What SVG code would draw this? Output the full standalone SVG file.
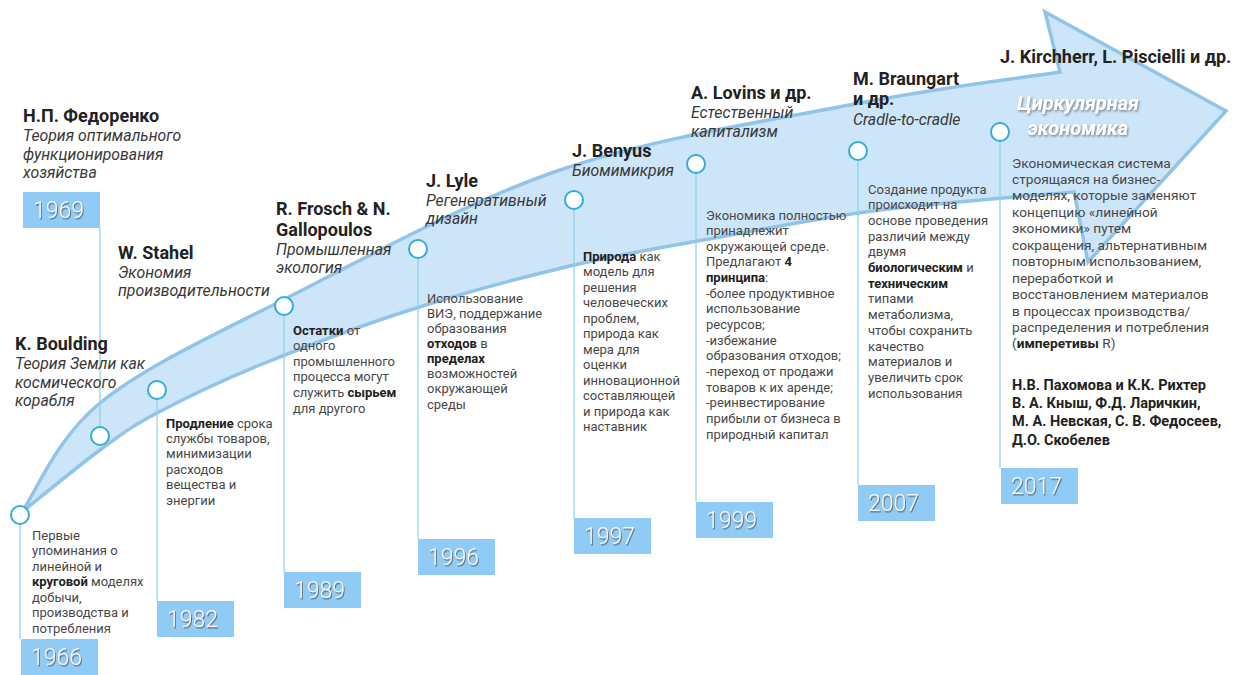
<svg xmlns="http://www.w3.org/2000/svg" width="1249" height="675" viewBox="0 0 1249 675">
<defs>
<style>
.t{font-family:Roboto,"Liberation Sans",sans-serif;font-weight:700;font-size:18px;fill:#222}
.i{font-family:Roboto,"Liberation Sans",sans-serif;font-style:italic;font-size:15.8px;fill:#383838}
.d{font-family:Roboto,"Liberation Sans",sans-serif;font-size:13px;fill:#484848}
.d2{font-family:Roboto,"Liberation Sans",sans-serif;font-size:13.7px;fill:#484848}
.b{font-weight:700;fill:#222}
.a2{font-family:Roboto,"Liberation Sans",sans-serif;font-weight:700;font-size:14.5px;fill:#222}
.yb{fill:#8fcbf4}
.yt{font-family:Roboto,"Liberation Sans",sans-serif;font-weight:300;font-size:23px;fill:#f6f6f6;filter:url(#sh)}
.c{fill:#fff;stroke:#33acd9;stroke-width:2}
.ln{stroke:#8ccfee;stroke-width:1.2;fill:none}
.ce{font-family:Roboto,"Liberation Sans",sans-serif;font-weight:700;font-style:italic;font-size:20px;fill:#fff;filter:url(#sh2)}
</style>
<filter id="sh" x="-20%" y="-20%" width="140%" height="150%">
<feDropShadow dx="1" dy="1.5" stdDeviation="0.7" flood-color="#555" flood-opacity="0.75"/>
</filter>
<filter id="sh2" x="-20%" y="-30%" width="140%" height="160%">
<feDropShadow dx="1" dy="1.5" stdDeviation="1" flood-color="#555" flood-opacity="0.7"/>
</filter>
</defs>
<rect width="1249" height="675" fill="#fff"/>
<path id="arrow" d="M22,512 C35,493.8 56.5,438.3 100,403 C143.5,367.7 206.3,338.8 283,300 C359.7,261.2 463.8,202.8 560,170 C656.2,137.2 776.7,119.3 860,103 C943.3,86.7 1026.7,77.2 1060,72 L1045,12 L1226,111 L1088,262 L1074,192 C1041.7,195 939,202.5 880,210 C821,217.5 771.7,227.7 720,237 C668.3,246.3 621.7,253.8 570,266 C518.3,278.2 461.7,293.5 410,310 C358.3,326.5 302.2,347.8 260,365 C217.8,382.2 183.7,398.8 157,413 C130.3,427.2 122.5,433.5 100,450 C77.5,466.5 35,501.7 22,512 Z" fill="#cae4f8" fill-opacity="0.95" stroke="#91c4e8" stroke-width="3.5" stroke-linejoin="miter"/>
<g id="connectors">
<line class="ln" x1="20" y1="524" x2="20" y2="639"/>
<line class="ln" x1="100" y1="228" x2="100" y2="427"/>
<line class="ln" x1="157" y1="399" x2="157" y2="601"/>
<line class="ln" x1="284" y1="315" x2="284" y2="572"/>
<line class="ln" x1="418" y1="258" x2="418" y2="539"/>
<line class="ln" x1="574" y1="209" x2="574" y2="518"/>
<line class="ln" x1="696" y1="173" x2="696" y2="502"/>
<line class="ln" x1="858" y1="160" x2="858" y2="485"/>
<line class="ln" x1="1000" y1="141" x2="1000" y2="468"/>
</g>
<g id="n1966">
<circle class="c" cx="20" cy="515" r="9"/>
<rect class="yb" x="21" y="639" width="77" height="36"/>
<text class="yt" x="31" y="665">1966</text>
<text class="t" x="15" y="350">K. Boulding</text>
<text class="i"><tspan x="15" y="369">Теория Земли как</tspan><tspan x="15" y="388">космического</tspan><tspan x="15" y="406">корабля</tspan></text>
<text class="d"><tspan x="32" y="539.5">Первые</tspan><tspan x="32" dy="15.5">упоминания о</tspan><tspan x="32" dy="15.5">линейной и</tspan><tspan x="32" dy="15.5"><tspan class="b">круговой</tspan> моделях</tspan><tspan x="32" dy="15.5">добычи,</tspan><tspan x="32" dy="15.5">производства и</tspan><tspan x="32" dy="15.5">потребления</tspan></text>
</g>
<g id="n1969">
<circle class="c" cx="100" cy="436" r="9"/>
<rect class="yb" x="23" y="192" width="77" height="36"/>
<text class="yt" x="33" y="218">1969</text>
<text class="t" x="23" y="122">Н.П. Федоренко</text>
<text class="i"><tspan x="23" y="141">Теория оптимального</tspan><tspan x="23" y="160">функционирования</tspan><tspan x="23" y="178">хозяйства</tspan></text>
</g>
<g id="n1982">
<circle class="c" cx="157" cy="390" r="9"/>
<rect class="yb" x="157" y="601" width="77" height="36"/>
<text class="yt" x="167" y="627">1982</text>
<text class="t" x="118" y="259">W. Stahel</text>
<text class="i"><tspan x="118" y="278">Экономия</tspan><tspan x="118" y="296">производительности</tspan></text>
<text class="d"><tspan x="166" y="427.5"><tspan class="b">Продление</tspan> срока</tspan><tspan x="166" dy="15.4">службы товаров,</tspan><tspan x="166" dy="15.4">минимизации</tspan><tspan x="166" dy="15.4">расходов</tspan><tspan x="166" dy="15.4">вещества и</tspan><tspan x="166" dy="15.4">энергии</tspan></text>
</g>
<g id="n1989">
<circle class="c" cx="284" cy="306" r="9"/>
<rect class="yb" x="284" y="572" width="77" height="36"/>
<text class="yt" x="294" y="598">1989</text>
<text class="t"><tspan x="276" y="215">R. Frosch &amp; N.</tspan><tspan x="276" y="236">Gallopoulos</tspan></text>
<text class="i"><tspan x="276" y="255">Промышленная</tspan><tspan x="276" y="273">экология</tspan></text>
<text class="d"><tspan x="293" y="334.5"><tspan class="b">Остатки</tspan> от</tspan><tspan x="293" dy="15.6">одного</tspan><tspan x="293" dy="15.6">промышленного</tspan><tspan x="293" dy="15.6">процесса могут</tspan><tspan x="293" dy="15.6">служить <tspan class="b">сырьем</tspan></tspan><tspan x="293" dy="15.6">для другого</tspan></text>
</g>
<g id="n1996">
<circle class="c" cx="418" cy="249" r="9"/>
<rect class="yb" x="418" y="539" width="77" height="36"/>
<text class="yt" x="428" y="565">1996</text>
<text class="t" x="426" y="187">J. Lyle</text>
<text class="i"><tspan x="426" y="206">Регенеративный</tspan><tspan x="426" y="224">дизайн</tspan></text>
<text class="d"><tspan x="427" y="302.5">Использование</tspan><tspan x="427" dy="15.15">ВИЭ, поддержание</tspan><tspan x="427" dy="15.15">образования</tspan><tspan x="427" dy="15.15"><tspan class="b">отходов</tspan> в</tspan><tspan x="427" dy="15.15" class="b">пределах</tspan><tspan x="427" dy="15.15">возможностей</tspan><tspan x="427" dy="15.15">окружающей</tspan><tspan x="427" dy="15.15">среды</tspan></text>
</g>
<g id="n1997">
<circle class="c" cx="574" cy="200" r="9"/>
<rect class="yb" x="574" y="518" width="77" height="36"/>
<text class="yt" x="584" y="544">1997</text>
<text class="t" x="572" y="157">J. Benyus</text>
<text class="i" x="572" y="176">Биомимикрия</text>
<text class="d"><tspan x="583" y="260.5"><tspan class="b">Природа</tspan> как</tspan><tspan x="583" dy="15.5">модель для</tspan><tspan x="583" dy="15.5">решения</tspan><tspan x="583" dy="15.5">человеческих</tspan><tspan x="583" dy="15.5">проблем,</tspan><tspan x="583" dy="15.5">природа как</tspan><tspan x="583" dy="15.5">мера для</tspan><tspan x="583" dy="15.5">оценки</tspan><tspan x="583" dy="15.5">инновационной</tspan><tspan x="583" dy="15.5">составляющей</tspan><tspan x="583" dy="15.5">и природа как</tspan><tspan x="583" dy="15.5">наставник</tspan></text>
</g>
<g id="n1999">
<circle class="c" cx="696" cy="164" r="9"/>
<rect class="yb" x="696" y="502" width="77" height="36"/>
<text class="yt" x="706" y="528">1999</text>
<text class="t" x="691" y="99">A. Lovins и др.</text>
<text class="i"><tspan x="691" y="118">Естественный</tspan><tspan x="691" y="137">капитализм</tspan></text>
<text class="d"><tspan x="706" y="219.5">Экономика полностью</tspan><tspan x="706" dy="15.65">принадлежит</tspan><tspan x="706" dy="15.65">окружающей среде.</tspan><tspan x="706" dy="15.65">Предлагают <tspan class="b">4</tspan></tspan><tspan x="706" dy="15.65"><tspan class="b">принципа</tspan>:</tspan><tspan x="706" dy="15.65">-более продуктивное</tspan><tspan x="706" dy="15.65">использование</tspan><tspan x="706" dy="15.65">ресурсов;</tspan><tspan x="706" dy="15.65">-избежание</tspan><tspan x="706" dy="15.65">образования отходов;</tspan><tspan x="706" dy="15.65">-переход от продажи</tspan><tspan x="706" dy="15.65">товаров к их аренде;</tspan><tspan x="706" dy="15.65">-реинвестирование</tspan><tspan x="706" dy="15.65">прибыли от бизнеса в</tspan><tspan x="706" dy="15.65">природный капитал</tspan></text>
</g>
<g id="n2007">
<circle class="c" cx="858" cy="151" r="9"/>
<rect class="yb" x="858" y="485" width="77" height="36"/>
<text class="yt" x="868" y="511">2007</text>
<text class="t"><tspan x="853" y="85">M. Braungart</tspan><tspan x="853" y="105">и др.</tspan></text>
<text class="i" x="853" y="125">Cradle-to-cradle</text>
<text class="d"><tspan x="868" y="193.5">Создание продукта</tspan><tspan x="868" dy="15.7">происходит на</tspan><tspan x="868" dy="15.7">основе проведения</tspan><tspan x="868" dy="15.7">различий между</tspan><tspan x="868" dy="15.7">двумя</tspan><tspan x="868" dy="15.7"><tspan class="b">биологическим</tspan> и</tspan><tspan x="868" dy="15.7" class="b">техническим</tspan><tspan x="868" dy="15.7">типами</tspan><tspan x="868" dy="15.7">метаболизма,</tspan><tspan x="868" dy="15.7">чтобы сохранить</tspan><tspan x="868" dy="15.7">качество</tspan><tspan x="868" dy="15.7">материалов и</tspan><tspan x="868" dy="15.7">увеличить срок</tspan><tspan x="868" dy="15.7">использования</tspan></text>
</g>
<g id="n2017">
<circle class="c" cx="1000" cy="132" r="9"/>
<rect class="yb" x="1001" y="468" width="77" height="36"/>
<text class="yt" x="1011" y="494">2017</text>
<text class="t" x="1000" y="63">J. Kirchherr, L. Piscielli и др.</text>
<text class="ce" text-anchor="middle"><tspan x="1078" y="110">Циркулярная</tspan><tspan x="1078" y="135">экономика</tspan></text>
<text class="d2"><tspan x="1012" y="167.5">Экономическая система</tspan><tspan x="1012" dy="16.45">строящаяся на бизнес-</tspan><tspan x="1012" dy="16.45">моделях, которые заменяют</tspan><tspan x="1012" dy="16.45">концепцию «линейной</tspan><tspan x="1012" dy="16.45">экономики» путем</tspan><tspan x="1012" dy="16.45">сокращения, альтернативным</tspan><tspan x="1012" dy="16.45">повторным использованием,</tspan><tspan x="1012" dy="16.45">переработкой и</tspan><tspan x="1012" dy="16.45">восстановлением материалов</tspan><tspan x="1012" dy="16.45">в процессах производства/</tspan><tspan x="1012" dy="16.45">распределения и потребления</tspan><tspan x="1012" dy="16.45">(<tspan class="b">имперетивы</tspan> R)</tspan></text>
<text class="a2"><tspan x="1012" y="390">Н.В. Пахомова и К.К. Рихтер</tspan><tspan x="1012" y="408">В. А. Кныш, Ф.Д. Ларичкин,</tspan><tspan x="1012" y="426">М. А. Невская, С. В. Федосеев,</tspan><tspan x="1012" y="445">Д.О. Скобелев</tspan></text>
</g>
</svg>
